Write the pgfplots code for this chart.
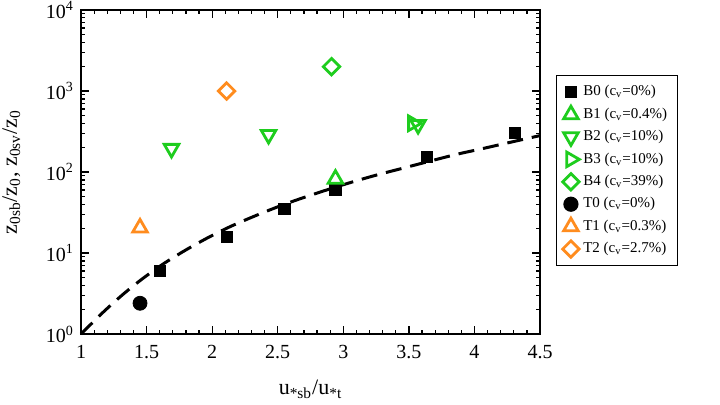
\documentclass[border=0pt]{standalone}
\usepackage{pgfplots}
\pgfplotsset{compat=1.18}
\usepackage{fontspec}
\setmainfont{Liberation Serif}
\definecolor{mygreen}{RGB}{30,205,30}
\definecolor{myorange}{RGB}{255,140,30}
\begin{document}
\begin{tikzpicture}
\begin{axis}[
  scale only axis,
  width=229.5pt, height=162pt,
  xmin=1, xmax=4.5,
  ymode=log, ymin=1, ymax=10000,
  xtick={1,1.5,2,2.5,3,3.5,4,4.5},
  minor x tick num=4,
  ytick={1,10,100,1000,10000},
  yticklabels={10\textsuperscript{0},10\textsuperscript{1},10\textsuperscript{2},10\textsuperscript{3},10\textsuperscript{4}},
  /pgf/number format/assume math mode=true,
  tick align=inside,
  tick style={black, line width=0.6pt},
  major tick length=4pt,
  minor tick length=2.2pt,
  axis line style={line width=1.2pt},
  ticklabel style={font=\fontsize{10}{12}\selectfont},
  xticklabel style={yshift=-2pt},
  xlabel={u\textsubscript{*sb}/u\textsubscript{*t}},
  ylabel={z\textsubscript{0sb}/z\textsubscript{0}, z\textsubscript{0sv}/z\textsubscript{0}},
  label style={font=\fontsize{11}{13}\selectfont},
  xlabel style={yshift=-4pt},
  ylabel style={yshift=6pt},
  legend style={at={(rel axis cs:1.035,0.80)}, anchor=north west,
    font=\fontsize{7.5}{9}\selectfont, draw=black, line width=0.6pt,
    row sep=0.5pt, inner sep=3pt},
  legend cell align=left,
  clip=false,
]
\addplot[only marks, mark=square*, mark size=2.8pt, black] coordinates {
  (1.60,6.0) (2.115,15.8) (2.55,35) (2.94,60) (3.64,153) (4.31,302)
};
\addlegendentry{B0 (c\textsubscript{v}=0\%)}
\addplot[only marks, mark=triangle, mark size=4.2pt, mygreen, line width=1.4pt] coordinates {
  (2.94,82)
};
\addlegendentry{B1 (c\textsubscript{v}=0.4\%)}
\addplot[only marks, mark=triangle, mark options={rotate=180}, mark size=4.2pt, mygreen, line width=1.4pt] coordinates {
  (1.69,195) (2.43,290) (3.57,385)
};
\addlegendentry{B2 (c\textsubscript{v}=10\%)}
\addplot[only marks, mark=triangle, mark options={rotate=-90}, mark size=4.2pt, mygreen, line width=1.4pt] coordinates {
  (3.53,400)
};
\addlegendentry{B3 (c\textsubscript{v}=10\%)}
\addplot[only marks, mark=square, mark options={rotate=45}, mark size=2.9pt, mygreen, line width=1.4pt] coordinates {
  (2.91,2000)
};
\addlegendentry{B4 (c\textsubscript{v}=39\%)}
\addplot[only marks, mark=*, mark size=3.5pt, black] coordinates {
  (1.45,2.4)
};
\addlegendentry{T0 (c\textsubscript{v}=0\%)}
\addplot[only marks, mark=triangle, mark size=4.2pt, myorange, line width=1.4pt] coordinates {
  (1.45,20.5)
};
\addlegendentry{T1 (c\textsubscript{v}=0.3\%)}
\addplot[only marks, mark=square, mark options={rotate=45}, mark size=2.9pt, myorange, line width=1.4pt] coordinates {
  (2.11,1000)
};
\addlegendentry{T2 (c\textsubscript{v}=2.7\%)}
\addplot[black, line width=1.5pt, dash pattern=on 8pt off 4.5pt, smooth, no marks, forget plot] coordinates {
  (1.0,1.0) (1.17,1.87) (1.32,3.09) (1.47,4.84) (1.63,7.40) (1.80,10.94)
  (1.97,15.56) (2.14,21.3) (2.33,28.9) (2.52,38.3) (2.70,48.6) (2.90,62.1)
  (3.08,76.4) (3.26,92.5) (3.45,111.2) (3.84,162) (4.035,190.5) (4.226,224) (4.5,282)
};
\path (rel axis cs:-0.1765,-0.216) coordinate (bbsw);
\path (rel axis cs:1.392,1.031) coordinate (bbne);
\end{axis}
\pgfresetboundingbox
\path (bbsw) rectangle (bbne);
\end{tikzpicture}
\end{document}
